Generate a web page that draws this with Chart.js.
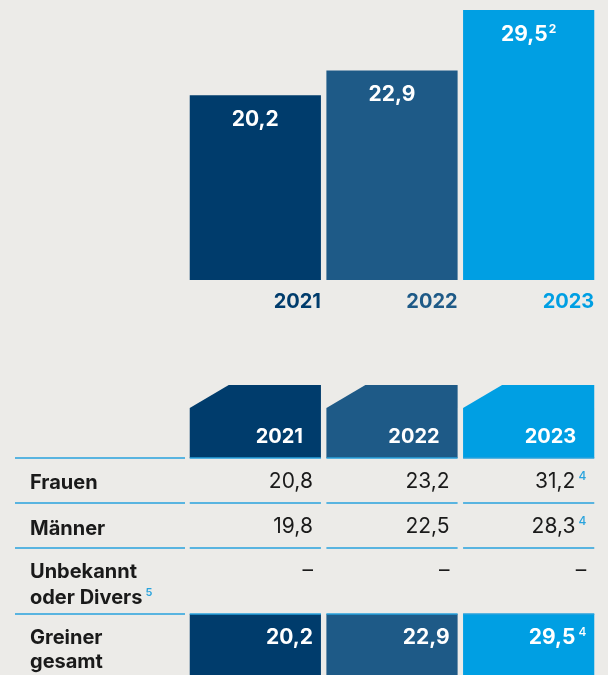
<!DOCTYPE html>
<html lang="de">
<head>
<meta charset="utf-8">
<title>Greiner gesamt</title>
<script src="https://cdn.jsdelivr.net/npm/chart.js@4"></script>
<style>
  html, body { margin: 0; padding: 0; background: #ecebe8; }
  canvas { display: block; }
</style>
</head>
<body>
<canvas id="chart" width="608" height="675"></canvas>
<script>
// values per year
const years = ['2021', '2022', '2023'];
const totals = [20.2, 22.9, 29.5];
const women = [20.8, 23.2, 31.2];
const men = [19.8, 22.5, 28.3];
const unknown = [null, null, null];
const barNotes = ['', '', '2'];
const tableNotes = ['', '', '4'];
const yearColors = ['#003c6c', '#1e5a87', '#009fe3'];

const BG = '#ecebe8';
const INK = '#1a1a1a';
const LINE = '#29a3dd';
const FONT = 'Inter, Lato, sans-serif';

const fmt = v => (v === null ? '–' : v.toFixed(1).replace('.', ','));

// draws text plus a small raised footnote marker, anchored left/center/right
function textWithNote(ctx, text, note, x, y, align, font, color, noteFont, noteColor, gap) {
    ctx.font = font;
    const w = ctx.measureText(text).width;
    ctx.font = noteFont;
    const nw = note ? ctx.measureText(note).width + gap : 0;
    const total = w + nw;
    let left = x;
    if (align === 'center') left = x - total / 2;
    if (align === 'right') left = x - total;
    ctx.textAlign = 'left';
    ctx.textBaseline = 'alphabetic';
    ctx.font = font;
    ctx.fillStyle = color;
    ctx.fillText(text, left, y);
    if (note) {
        ctx.font = noteFont;
        ctx.fillStyle = noteColor;
        ctx.fillText(note, left + w + gap, y - 8);
    }
}

const background = {
    id: 'background',
    beforeDraw(chart) {
        const ctx = chart.ctx;
        ctx.save();
        ctx.fillStyle = BG;
        ctx.fillRect(0, 0, chart.width, chart.height);
        ctx.restore();
    }
};

// value labels inside the bars and year labels below them
const barLabels = {
    id: 'barLabels',
    afterDatasetsDraw(chart) {
        const ctx = chart.ctx;
        const meta = chart.getDatasetMeta(0);
        ctx.save();
        meta.data.forEach((bar, i) => {
            textWithNote(ctx, fmt(totals[i]), barNotes[i], bar.x, bar.y + 31, 'center',
                '700 21px ' + FONT, '#ffffff', '700 12px ' + FONT, '#ffffff', 1);
            const right = bar.x + bar.width / 2;
            ctx.font = '700 20px ' + FONT;
            ctx.textAlign = 'right';
            ctx.fillStyle = yearColors[i];
            ctx.fillText(years[i], right, 308);
        });
        ctx.restore();
    }
};

// table below the chart, columns follow the bars
const table = {
    id: 'table',
    afterDraw(chart) {
        const ctx = chart.ctx;
        const meta = chart.getDatasetMeta(0);
        const cols = meta.data.map(bar => ({
            left: bar.x - bar.width / 2,
            right: bar.x + bar.width / 2
        }));
        const labelLeft = 15, labelRight = 185;
        ctx.save();

        // header cells with a cut corner
        const hTop = 385, hBottom = 458;
        cols.forEach((c, i) => {
            ctx.fillStyle = yearColors[i];
            ctx.beginPath();
            ctx.moveTo(c.left, hTop + 23);
            ctx.lineTo(c.left + 39, hTop);
            ctx.lineTo(c.right, hTop);
            ctx.lineTo(c.right, hBottom);
            ctx.lineTo(c.left, hBottom);
            ctx.closePath();
            ctx.fill();
            ctx.font = '700 20px ' + FONT;
            ctx.textAlign = 'right';
            ctx.fillStyle = '#ffffff';
            ctx.fillText(years[i], c.right - 18, 443);
        });

        // total row cells
        const tTop = 614;
        cols.forEach((c, i) => {
            ctx.fillStyle = yearColors[i];
            ctx.fillRect(c.left, tTop, c.right - c.left, chart.height - tTop);
        });

        // row separators
        ctx.strokeStyle = LINE;
        ctx.lineWidth = 1.5;
        [458, 503, 548, 614].forEach(y => {
            ctx.beginPath();
            ctx.moveTo(labelLeft, y);
            ctx.lineTo(labelRight, y);
            cols.forEach(c => {
                ctx.moveTo(c.left, y);
                ctx.lineTo(c.right, y);
            });
            ctx.stroke();
        });

        const labelFont = '700 20px ' + FONT;
        const valueFont = '400 21px ' + FONT;
        const noteFont = '500 12px ' + FONT;
        ctx.textAlign = 'left';
        ctx.fillStyle = INK;
        ctx.font = labelFont;
        ctx.fillText('Frauen', 30, 489);
        ctx.fillText('Männer', 30, 535);
        ctx.fillText('Unbekannt', 30, 578);
        textWithNote(ctx, 'oder Divers', '5', 30, 604, 'left', labelFont, INK, '600 11px ' + FONT, LINE, 3);
        ctx.textAlign = 'left';
        ctx.fillStyle = INK;
        ctx.font = labelFont;
        ctx.fillText('Greiner', 30, 644);
        ctx.fillText('gesamt', 30, 668);

        const rows = [
            { values: women, y: 488 },
            { values: men, y: 533 },
            { values: unknown, y: 577 }
        ];
        rows.forEach(row => {
            cols.forEach((c, i) => {
                const v = row.values[i];
                const note = v === null ? '' : tableNotes[i];
                textWithNote(ctx, fmt(v), note, c.right - 8, row.y, 'right',
                    valueFont, INK, noteFont, LINE, 3);
            });
        });
        cols.forEach((c, i) => {
            textWithNote(ctx, fmt(totals[i]), tableNotes[i], c.right - 8, 644, 'right',
                '700 21px ' + FONT, '#ffffff', noteFont, '#ffffff', 3);
        });
        ctx.restore();
    }
};

new Chart(document.getElementById('chart'), {
    type: 'bar',
    data: {
        labels: years,
        datasets: [{
            data: totals,
            backgroundColor: yearColors,
            borderWidth: 0,
            barPercentage: 0.96,
            categoryPercentage: 1
        }]
    },
    options: {
        responsive: false,
        animation: false,
        devicePixelRatio: 1,
        layout: { padding: { left: 187, right: 11, top: 0, bottom: 395 } },
        plugins: { legend: { display: false }, tooltip: { enabled: false } },
        scales: {
            x: { display: false },
            y: { display: false, min: 0, max: 30.6 }
        }
    },
    plugins: [background, barLabels, table]
});
</script>
</body>
</html>
